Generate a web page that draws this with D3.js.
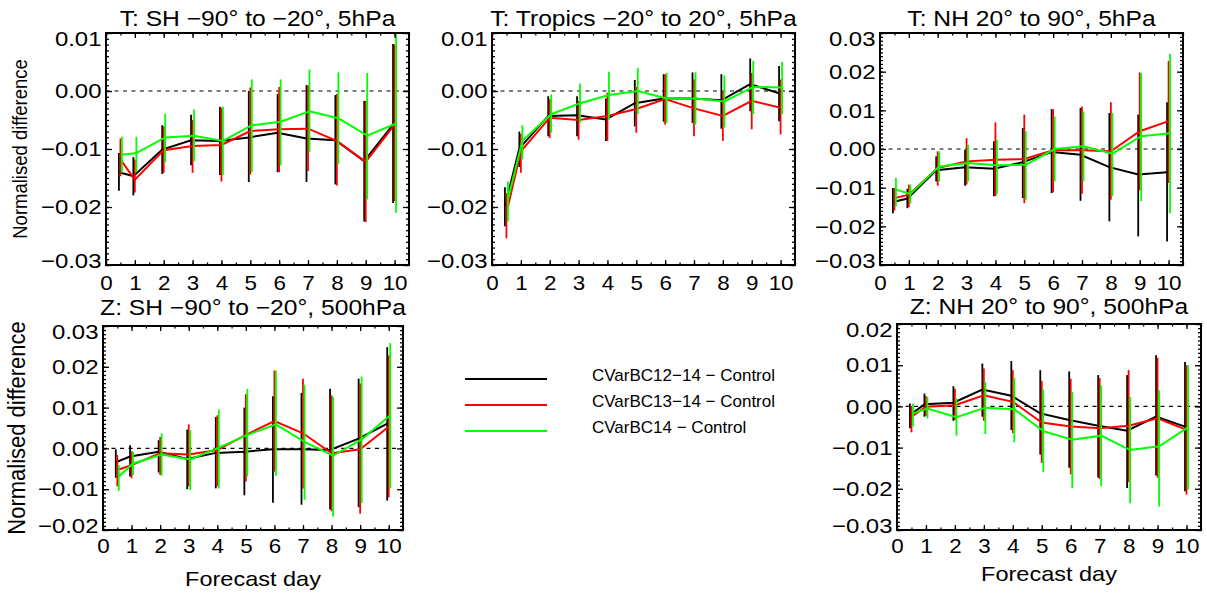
<!DOCTYPE html>
<html>
<head>
<meta charset="utf-8">
<script src="https://cdn.jsdelivr.net/npm/d3@7"></script>
<style>
  body { margin: 0; background: #fff; }
  svg { display: block; }
  text { font-family: "Liberation Sans", Arial, Helvetica, sans-serif; fill: #000; }
</style>
</head>
<body>
<div id="chart"></div>
<script>
// forecast days where the differences were computed
var days = [0.5, 1, 2, 3, 4, 5, 6, 7, 8, 9, 10];
var dayTicks = [0, 1, 2, 3, 4, 5, 6, 7, 8, 9, 10];
var seriesNames = ['CVarBC12\u221214 \u2212 Control', 'CVarBC13\u221214 \u2212 Control', 'CVarBC14 \u2212 Control'];
var seriesColors = ['#000000', '#ff0000', '#00ff00'];

// T: SH, 5hPa  (rows: black, red, green)
var tSH_yTicks = [-0.03, -0.02, -0.01, 0, 0.01];
var tSH_mean = [
  [-0.0140, -0.0147, -0.0101, -0.0085, -0.0086, -0.0080, -0.0072, -0.0082, -0.0085, -0.0121, -0.0058],
  [-0.0118, -0.0153, -0.0102, -0.0095, -0.0093, -0.0069, -0.0066, -0.0065, -0.0086, -0.0122, -0.0058],
  [-0.0110, -0.0107, -0.0080, -0.0077, -0.0086, -0.0059, -0.0053, -0.0035, -0.0047, -0.0077, -0.0056]
];
var tSH_hi = [
  [-0.0107, -0.0114, -0.0059, -0.0041, -0.0027, 0.0000, -0.0005, 0.0010, -0.0007, -0.0017, 0.0081],
  [-0.0082, -0.0118, -0.0061, -0.0050, -0.0029, 0.0006, 0.0007, 0.0010, -0.0005, -0.0017, 0.0080],
  [-0.0079, -0.0079, -0.0039, -0.0032, -0.0027, 0.0020, 0.0020, 0.0037, 0.0032, 0.0031, 0.0098]
];
var tSH_lo = [
  [-0.0172, -0.0180, -0.0143, -0.0128, -0.0145, -0.0157, -0.0140, -0.0157, -0.0161, -0.0225, -0.0193],
  [-0.0147, -0.0175, -0.0141, -0.0141, -0.0156, -0.0144, -0.0140, -0.0138, -0.0163, -0.0226, -0.0190],
  [-0.0141, -0.0140, -0.0123, -0.0121, -0.0145, -0.0140, -0.0128, -0.0105, -0.0126, -0.0187, -0.0210]
];

// T: Tropics, 5hPa
var tTR_yTicks = [-0.03, -0.02, -0.01, 0, 0.01];
var tTR_mean = [
  [-0.0199, -0.0099, -0.0043, -0.0042, -0.0049, -0.0021, -0.0013, -0.0013, -0.0016, 0.0012, -0.0004],
  [-0.0210, -0.0104, -0.0046, -0.0050, -0.0043, -0.0031, -0.0014, -0.0030, -0.0043, -0.0017, -0.0029],
  [-0.0187, -0.0086, -0.0040, -0.0021, -0.0007, 0.0000, -0.0013, -0.0013, -0.0018, 0.0007, 0.0006]
];
var tTR_hi = [
  [-0.0166, -0.0070, -0.0009, -0.0009, -0.0013, 0.0019, 0.0029, 0.0032, 0.0029, 0.0056, 0.0043],
  [-0.0176, -0.0074, -0.0014, -0.0017, -0.0003, 0.0007, 0.0029, 0.0020, 0.0000, 0.0031, 0.0020],
  [-0.0156, -0.0059, -0.0006, 0.0013, 0.0033, 0.0040, 0.0031, 0.0032, 0.0027, 0.0052, 0.0050]
];
var tTR_lo = [
  [-0.0233, -0.0131, -0.0078, -0.0078, -0.0086, -0.0061, -0.0053, -0.0055, -0.0065, -0.0035, -0.0052],
  [-0.0254, -0.0141, -0.0081, -0.0084, -0.0086, -0.0072, -0.0058, -0.0078, -0.0086, -0.0066, -0.0075],
  [-0.0225, -0.0118, -0.0072, -0.0055, -0.0049, -0.0040, -0.0055, -0.0058, -0.0063, -0.0040, -0.0040]
];

// T: NH, 5hPa
var tNH_yTicks = [-0.03, -0.02, -0.01, 0, 0.01, 0.02, 0.03];
var tNH_mean = [
  [-0.0137, -0.0128, -0.0055, -0.0047, -0.0051, -0.0034, -0.0008, -0.0015, -0.0047, -0.0066, -0.0060],
  [-0.0127, -0.0118, -0.0049, -0.0032, -0.0028, -0.0026, -0.0003, -0.0003, -0.0006, 0.0046, 0.0072],
  [-0.0105, -0.0116, -0.0045, -0.0036, -0.0042, -0.0041, 0.0000, 0.0007, -0.0012, 0.0033, 0.0041]
];
var tNH_hi = [
  [-0.0101, -0.0103, -0.0019, -0.0002, 0.0020, 0.0054, 0.0103, 0.0106, 0.0093, 0.0089, 0.0121],
  [-0.0101, -0.0092, -0.0006, 0.0028, 0.0069, 0.0089, 0.0103, 0.0110, 0.0121, 0.0198, 0.0228],
  [-0.0075, -0.0092, -0.0006, 0.0011, 0.0024, 0.0046, 0.0084, 0.0097, 0.0093, 0.0197, 0.0246]
];
var tNH_lo = [
  [-0.0166, -0.0153, -0.0084, -0.0095, -0.0122, -0.0127, -0.0114, -0.0134, -0.0187, -0.0226, -0.0239],
  [-0.0159, -0.0150, -0.0095, -0.0092, -0.0122, -0.0140, -0.0112, -0.0116, -0.0131, -0.0107, -0.0088],
  [-0.0148, -0.0141, -0.0084, -0.0084, -0.0116, -0.0131, -0.0084, -0.0084, -0.0122, -0.0135, -0.0166]
];

// Z: SH, 500hPa
var zSH_yTicks = [-0.02, -0.01, 0, 0.01, 0.02, 0.03];
var zSH_mean = [
  [-0.0034, -0.0020, -0.0008, -0.0026, -0.0011, -0.0008, -0.0002, -0.0002, -0.0004, 0.0024, 0.0061],
  [-0.0053, -0.0041, -0.0012, -0.0015, -0.0004, 0.0033, 0.0067, 0.0037, -0.0012, -0.0002, 0.0053],
  [-0.0069, -0.0037, -0.0015, -0.0027, 0.0002, 0.0033, 0.0059, 0.0016, -0.0018, 0.0022, 0.0081]
];
var zSH_hi = [
  [-0.0002, 0.0008, 0.0020, 0.0046, 0.0077, 0.0100, 0.0128, 0.0136, 0.0146, 0.0171, 0.0248],
  [-0.0016, -0.0007, 0.0028, 0.0059, 0.0081, 0.0133, 0.0191, 0.0171, 0.0130, 0.0159, 0.0228],
  [-0.0041, -0.0008, 0.0037, 0.0045, 0.0095, 0.0146, 0.0191, 0.0156, 0.0126, 0.0176, 0.0258]
];
var zSH_lo = [
  [-0.0072, -0.0069, -0.0059, -0.0100, -0.0098, -0.0115, -0.0133, -0.0138, -0.0150, -0.0144, -0.0128],
  [-0.0093, -0.0073, -0.0065, -0.0093, -0.0093, -0.0081, -0.0057, -0.0098, -0.0154, -0.0160, -0.0120],
  [-0.0104, -0.0065, -0.0067, -0.0102, -0.0098, -0.0069, -0.0067, -0.0126, -0.0167, -0.0134, -0.0098]
];

// Z: NH, 500hPa
var zNH_yTicks = [-0.03, -0.02, -0.01, 0, 0.01, 0.02];
var zNH_mean = [
  [-0.0021, 0.0005, 0.0009, 0.0041, 0.0026, -0.0017, -0.0033, -0.0047, -0.0059, -0.0025, -0.0049],
  [-0.0025, -0.0001, 0.0003, 0.0027, 0.0011, -0.0039, -0.0049, -0.0053, -0.0047, -0.0029, -0.0057],
  [-0.0017, -0.0005, -0.0026, -0.0003, -0.0007, -0.0060, -0.0081, -0.0071, -0.0106, -0.0097, -0.0051]
];
var zNH_hi = [
  [0.0007, 0.0031, 0.0049, 0.0104, 0.0110, 0.0088, 0.0085, 0.0076, 0.0076, 0.0124, 0.0108],
  [0.0001, 0.0025, 0.0043, 0.0092, 0.0088, 0.0062, 0.0067, 0.0069, 0.0088, 0.0118, 0.0100],
  [0.0007, 0.0023, 0.0019, 0.0059, 0.0070, 0.0041, 0.0035, 0.0051, 0.0023, 0.0039, 0.0100]
];
var zNH_lo = [
  [-0.0053, -0.0025, -0.0035, -0.0025, -0.0057, -0.0117, -0.0149, -0.0173, -0.0198, -0.0168, -0.0206],
  [-0.0063, -0.0023, -0.0033, -0.0035, -0.0065, -0.0137, -0.0165, -0.0176, -0.0184, -0.0173, -0.0214],
  [-0.0049, -0.0029, -0.0071, -0.0067, -0.0087, -0.0159, -0.0198, -0.0194, -0.0235, -0.0243, -0.0202]
];

var W = 1207, H = 596;
var STRETCH = 'scale(1.12,1)';

var panels = [
  { title: 'T: SH \u221290\u00b0 to \u221220\u00b0, 5hPa', yTicks: tSH_yTicks, mean: tSH_mean, lo: tSH_lo, hi: tSH_hi,
    box: [106, 409, 33, 265], titleY: 26, tickY: 25, ylabel: { x: 27, size: 18.5 } },
  { title: 'T: Tropics \u221220\u00b0 to 20\u00b0, 5hPa', yTicks: tTR_yTicks, mean: tTR_mean, lo: tTR_lo, hi: tTR_hi,
    box: [492, 795, 33, 265], titleY: 26, tickY: 25 },
  { title: 'T: NH 20\u00b0 to 90\u00b0, 5hPa', yTicks: tNH_yTicks, mean: tNH_mean, lo: tNH_lo, hi: tNH_hi,
    box: [880, 1183, 33, 265], titleY: 26, tickY: 25 },
  { title: 'Z: SH \u221290\u00b0 to \u221220\u00b0, 500hPa', yTicks: zSH_yTicks, mean: zSH_mean, lo: zSH_lo, hi: zSH_hi,
    box: [103, 403, 326, 530], titleY: 315, tickY: 23, ylabel: { x: 25, size: 22 }, xlabelY: 586 },
  { title: 'Z: NH 20\u00b0 to 90\u00b0, 500hPa', yTicks: zNH_yTicks, mean: zNH_mean, lo: zNH_lo, hi: zNH_hi,
    box: [897, 1201, 324, 530], titleY: 314, tickY: 23, xlabelY: 581 }
];

var svg = d3.select('#chart').append('svg')
  .attr('width', W)
  .attr('height', H);

function styleAxis(g) {
  g.select('.domain').remove();
  g.selectAll('line').attr('stroke', '#000').attr('stroke-width', 1.3);
  g.attr('font-family', null).attr('font-size', null);
}

function drawPanel(p) {
  var left = p.box[0], right = p.box[1], top = p.box[2], bottom = p.box[3];
  var ymin = d3.min(p.yTicks), ymax = d3.max(p.yTicks);
  var x = d3.scaleLinear().domain([0, 10.5]).range([left, right]);
  var y = d3.scaleLinear().domain([ymin, ymax]).range([bottom, top]);
  var g = svg.append('g');

  // zero reference line
  g.append('line')
    .attr('x1', left).attr('x2', right)
    .attr('y1', y(0)).attr('y2', y(0))
    .attr('stroke', '#000')
    .attr('stroke-width', 1.2)
    .attr('stroke-dasharray', '4,4.5');

  seriesColors.forEach(function (color, i) {
    var off = (i - 1) * 1.5;
    var pts = days.map(function (d, k) {
      return { day: d, v: p.mean[i][k], lo: p.lo[i][k], hi: p.hi[i][k] };
    });
    var line = d3.line()
      .x(function (d) { return x(d.day) + off; })
      .y(function (d) { return y(d.v); });
    g.append('path')
      .attr('d', line(pts))
      .attr('fill', 'none')
      .attr('stroke', color)
      .attr('stroke-width', 2);
    g.selectAll(null)
      .data(pts)
      .enter()
      .append('line')
      .attr('x1', function (d) { return x(d.day) + off; })
      .attr('x2', function (d) { return x(d.day) + off; })
      .attr('y1', function (d) { return y(d.hi); })
      .attr('y2', function (d) { return y(d.lo); })
      .attr('stroke', color)
      .attr('stroke-width', 1.8);
  });

  // minor tick positions
  var nMinor = Math.round((ymax - ymin) / 0.001);
  var yMinor = d3.range(nMinor + 1).map(function (k) { return ymin + k * 0.001; });
  var xMinor = d3.range(22).map(function (k) { return k * 0.5; });

  var fmt = d3.format('.2f');
  var gl = g.append('g').attr('transform', 'translate(' + left + ',0)')
    .call(d3.axisLeft(y).tickValues(p.yTicks).tickSize(-6).tickPadding(4).tickFormat(fmt));
  styleAxis(gl);
  gl.selectAll('text')
    .attr('font-size', 21)
    .attr('transform', 'scale(1.14,1)')
    .attr('y', function (d) { return d === ymax ? 6 : (d === ymin ? -4 : 0); });
  styleAxis(g.append('g').attr('transform', 'translate(' + left + ',0)')
    .call(d3.axisLeft(y).tickValues(yMinor).tickSize(-3).tickFormat('')));
  styleAxis(g.append('g').attr('transform', 'translate(' + right + ',0)')
    .call(d3.axisRight(y).tickValues(p.yTicks).tickSize(-6).tickFormat('')));
  styleAxis(g.append('g').attr('transform', 'translate(' + right + ',0)')
    .call(d3.axisRight(y).tickValues(yMinor).tickSize(-3).tickFormat('')));

  var gb = g.append('g').attr('transform', 'translate(0,' + bottom + ')')
    .call(d3.axisBottom(x).tickValues(dayTicks).tickSize(-5).tickFormat(d3.format('d')));
  styleAxis(gb);
  gb.selectAll('text')
    .attr('font-size', 20)
    .attr('y', p.tickY)
    .attr('dy', null)
    .attr('transform', STRETCH);
  styleAxis(g.append('g').attr('transform', 'translate(0,' + bottom + ')')
    .call(d3.axisBottom(x).tickValues(xMinor).tickSize(-2.5).tickFormat('')));
  styleAxis(g.append('g').attr('transform', 'translate(0,' + top + ')')
    .call(d3.axisTop(x).tickValues(dayTicks).tickSize(-5).tickFormat('')));
  styleAxis(g.append('g').attr('transform', 'translate(0,' + top + ')')
    .call(d3.axisTop(x).tickValues(xMinor).tickSize(-2.5).tickFormat('')));

  // plot frame
  g.append('rect')
    .attr('x', left).attr('y', top)
    .attr('width', right - left).attr('height', bottom - top)
    .attr('fill', 'none')
    .attr('stroke', '#000')
    .attr('stroke-width', 2);

  var cx = (left + right) / 2;
  g.append('text')
    .attr('transform', 'translate(' + cx + ',' + p.titleY + ') ' + STRETCH)
    .attr('text-anchor', 'middle')
    .attr('font-size', 22)
    .text(p.title);

  if (p.ylabel) {
    g.append('text')
      .attr('transform', 'translate(' + p.ylabel.x + ',' + ((top + bottom) / 2) + ') ' + STRETCH + ' rotate(-90)')
      .attr('text-anchor', 'middle')
      .attr('font-size', p.ylabel.size)
      .text('Normalised difference');
  }
  if (p.xlabelY) {
    g.append('text')
      .attr('transform', 'translate(' + cx + ',' + p.xlabelY + ') ' + STRETCH)
      .attr('text-anchor', 'middle')
      .attr('font-size', 21)
      .text('Forecast day');
  }
}

panels.forEach(drawPanel);

// legend in the empty middle slot
var legendY = d3.scalePoint().domain(seriesNames).range([379, 431]);
var lg = svg.append('g');
seriesNames.forEach(function (name, i) {
  lg.append('line')
    .attr('x1', 465).attr('x2', 547)
    .attr('y1', legendY(name)).attr('y2', legendY(name))
    .attr('stroke', seriesColors[i])
    .attr('stroke-width', 2);
  lg.append('text')
    .attr('x', 592)
    .attr('y', legendY(name) + 1.5)
    .attr('font-size', 17)
    .text(name);
});
</script>
</body>
</html>
